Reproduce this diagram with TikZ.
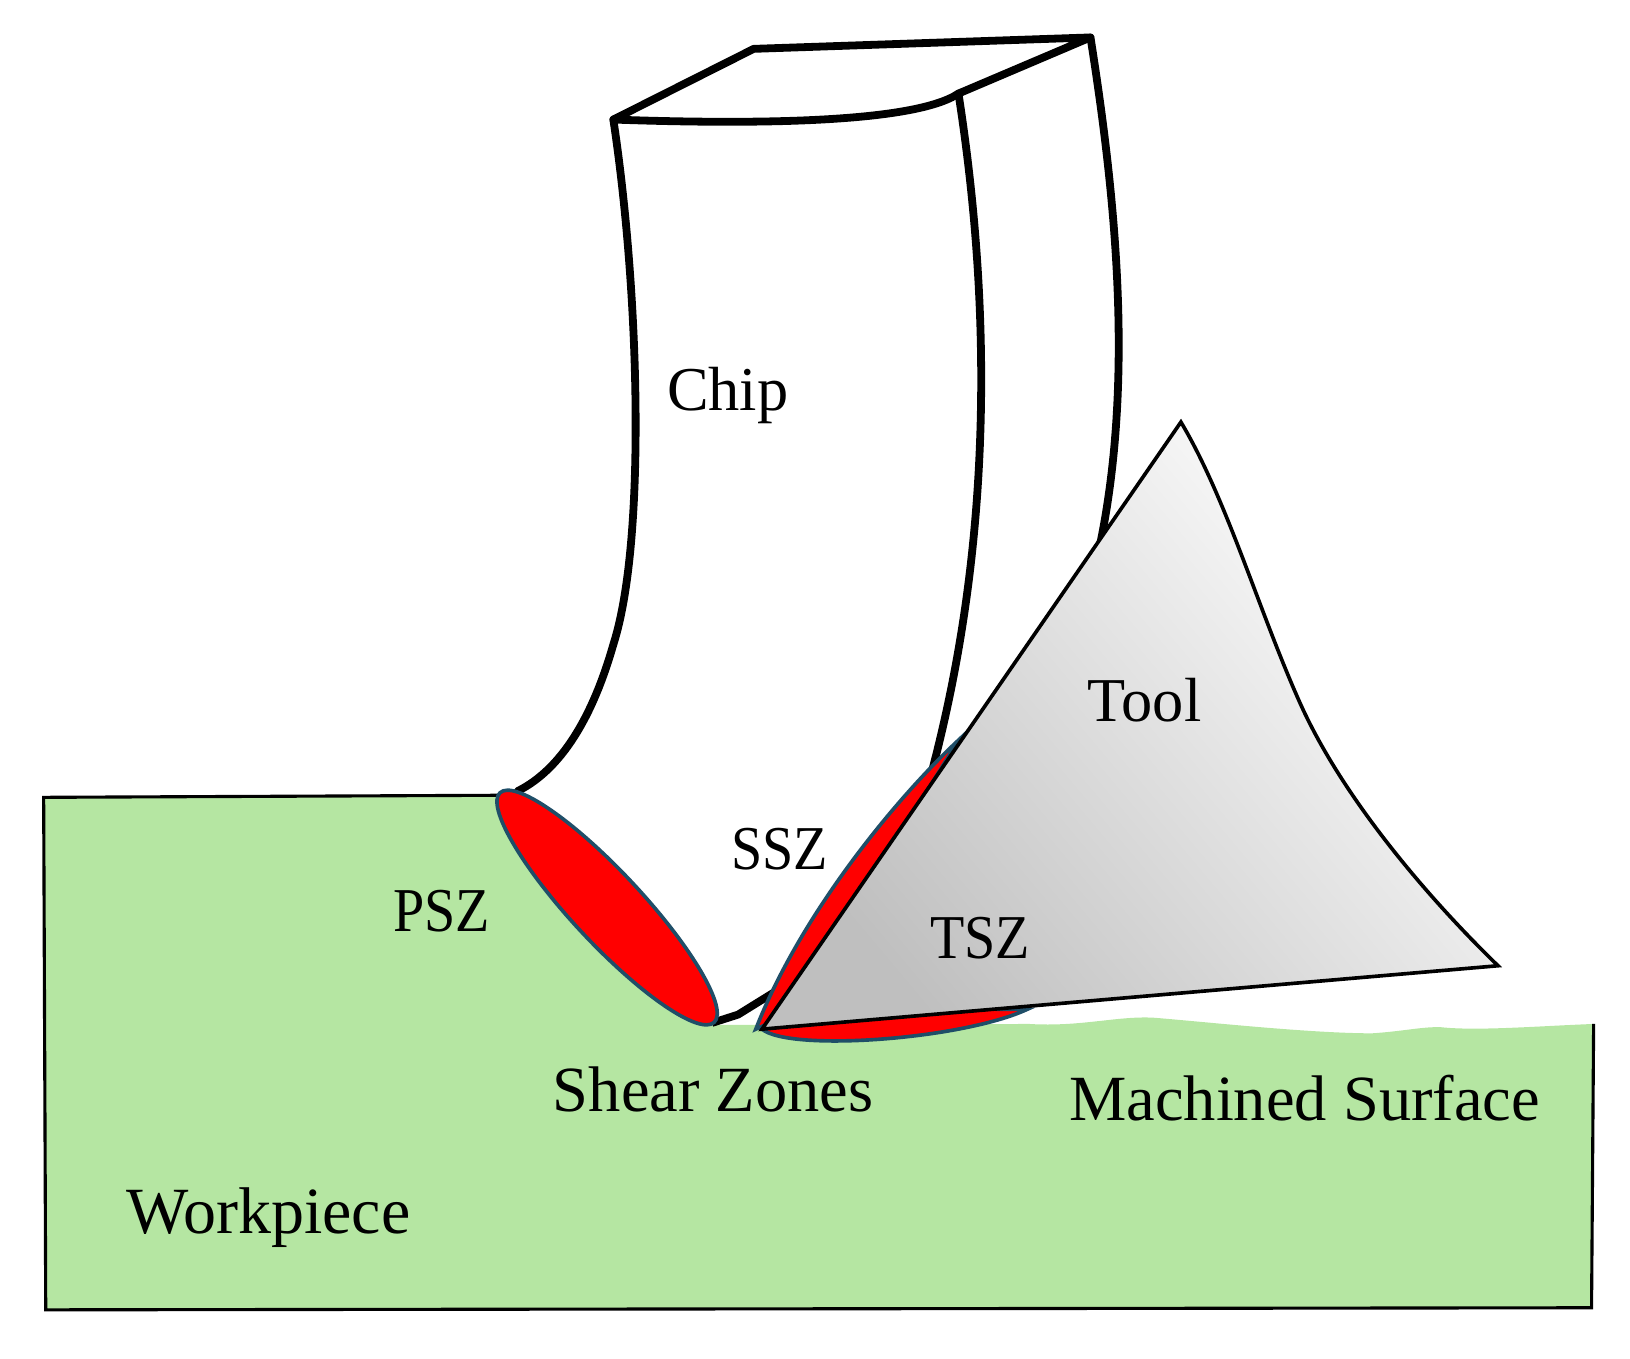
\documentclass[tikz,border=0pt]{standalone}
\usepackage{fontspec}
\setmainfont{Liberation Serif}
\usetikzlibrary{shapes.geometric}
\definecolor{wpgreen}{HTML}{B5E6A2}
\definecolor{zoneedge}{HTML}{1F4E68}
\tikzset{
  chipline/.style={draw=black,line width=7.5pt,line join=round,line cap=round},
  outline/.style={draw=black,line width=3pt},
  zone/.style={fill=red,draw=zoneedge,line width=3.5pt},
  lbl/.style={font=\fontsize{62}{62}\selectfont,anchor=base,text=black,inner sep=0pt},
  shortlbl/.style={lbl,font=\fontsize{60}{60}\selectfont},
  capslbl/.style={lbl,font=\fontsize{60}{60}\selectfont,xscale=0.9,transform shape},
}
\begin{document}
\begin{tikzpicture}[x=1pt,y=-1pt]
\useasboundingbox (0,0) rectangle (1568,1306.4);
% workpiece
\fill[wpgreen] (42,767) -- (482,765) -- (690,986) -- (990,985)
  .. controls (1040,988) and (1075,977) .. (1110,979)
  .. controls (1160,983) and (1260,994) .. (1320,994)
  .. controls (1350,992) and (1365,988) .. (1385,988)
  .. controls (1420,992) and (1480,987) .. (1533,985)
  -- (1531,1258) -- (44,1260) -- cycle;
\draw[outline] (482,765) -- (42,767) -- (44,1260) -- (1531,1258) -- (1533,985);
% chip
\draw[chipline] (590,115) .. controls (615,280) and (622,520) .. (590,620)
  .. controls (570,690) and (540,740) .. (498,761);
\draw[chipline] (922,90) .. controls (950,270) and (960,500) .. (897,740);
\draw[chipline] (1049,36) .. controls (1075,200) and (1090,370) .. (1058,525);
\draw[chipline] (590,115) -- (725,47) -- (1049,36) -- (922,90)
  .. controls (880,118) and (730,120) .. (590,115);
\draw[chipline,line cap=butt] (685,984) -- (710,976) -- (752,950);
% shear zones
\node[zone,ellipse,minimum width=302pt,minimum height=68pt,inner sep=0pt,rotate=-47] (psz) at (584,873) {};
\path[zone] (922,712) .. controls (860,770) and (770,880) .. (727,990) -- (760,975) -- cycle;
\path[zone] (733,990) .. controls (760,1012) and (925,1000) .. (988,971) -- (850,970) -- cycle;
% tool
\coordinate (apex) at (1136,406);
\coordinate (heel) at (733,990);
\coordinate (tipr) at (1441,929);
\path[bottom color=black!25,top color=white,shading angle=-50]
  (apex) .. controls (1180,480) and (1210,585) .. (1250,675)
  .. controls (1290,765) and (1370,860) .. (tipr) -- (heel) -- cycle;
\draw[draw=black,line width=3.5pt,line join=miter]
  (apex) .. controls (1180,480) and (1210,585) .. (1250,675)
  .. controls (1290,765) and (1370,860) .. (tipr) -- (heel) -- cycle;
% labels
\node[shortlbl] (chip) at (700,395) {Chip};
\node[shortlbl] (tool) at (1101,694) {Tool};
\node[capslbl] (ssz) at (750,836) {SSZ};
\node[capslbl] (pszl) at (425,896) {PSZ};
\node[capslbl] (tsz) at (943,922) {TSZ};
\node[lbl] (shear) at (686,1069) {Shear Zones};
\node[lbl] (mach) at (1255,1078) {Machined Surface};
\node[lbl,font=\fontsize{63.5}{63.5}\selectfont] (work) at (258,1187) {Workpiece};
\end{tikzpicture}
\end{document}
